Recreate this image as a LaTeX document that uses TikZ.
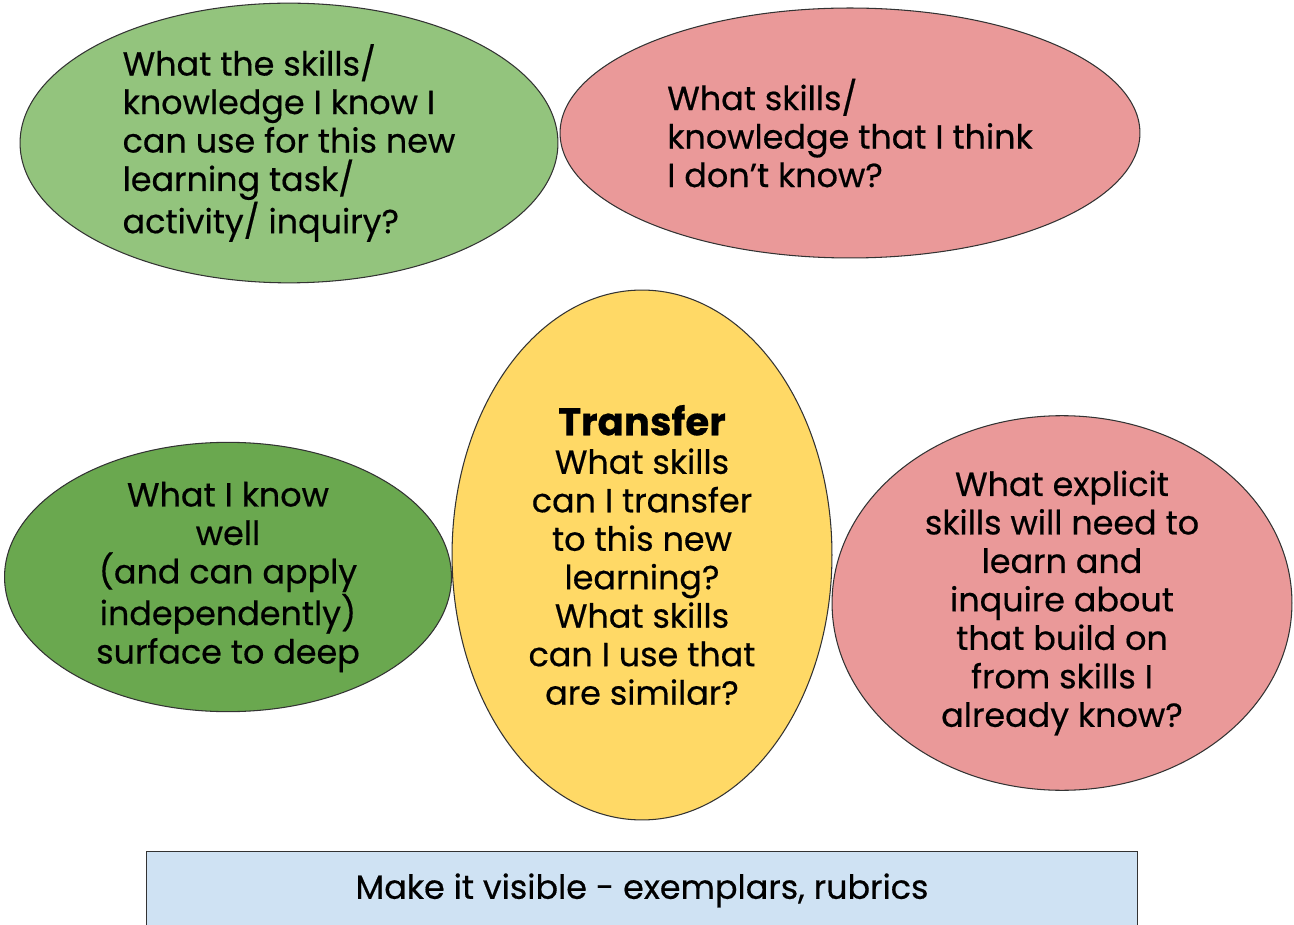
\documentclass[tikz,border=0pt]{standalone}
\usepackage{fontspec}
\setmainfont{Poppins}[FakeBold=0.5]
\usetikzlibrary{shapes.geometric}

\definecolor{knowngreen}{HTML}{93C47D}
\definecolor{wellgreen}{HTML}{6AA84F}
\definecolor{askpink}{HTML}{EA9999}
\definecolor{transferyellow}{HTML}{FFD966}
\definecolor{visibleblue}{HTML}{CFE2F3}

\tikzset{
  bubble/.style={draw=black!80, line width=0.6pt, ellipse, inner sep=0pt,
    font=\fontsize{19}{21.9}\selectfont},
}

\begin{document}
\begin{tikzpicture}[x=0.02cm,y=-0.02cm]
        \clip (0,0) rectangle (1294,925);
        \fill[white] (0,0) rectangle (1294,925);
        \node (known) [bubble, fill=knowngreen, minimum width=10.76cm, minimum height=5.4cm, align=left] at (289,143)
            {What the skills/\\knowledge I know I\\can use for this new\\learning task/\\activity/ inquiry?};
        \node (unknown) [bubble, fill=askpink, minimum width=11.6cm, minimum height=5cm, align=left] at (850,133)
            {What skills/\\knowledge that I think\\I don’t know?};
        \node (wellknown) [bubble, fill=wellgreen, minimum width=8.94cm, minimum height=5.38cm, align=center] at (228,577)
            {What I know\\well\\(and can apply\\independently)\\surface to deep};
        \node (transfer) [bubble, fill=transferyellow, minimum width=7.6cm, minimum height=10.6cm, align=center] at (642,555)
            {{\fontsize{22}{25}\selectfont\bfseries Transfer}\\What skills\\can I transfer\\to this new\\learning?\\What skills\\can I use that\\are similar?};
        \node (explicit) [bubble, fill=askpink, minimum width=9.2cm, minimum height=6.52cm, align=center] at (1062,603)
            {What explicit\\skills will need to\\learn and\\inquire about\\that build on\\from skills I\\already know?};
        \node (visible) [draw=black!80, line width=0.6pt, fill=visibleblue, minimum width=19.84cm, minimum height=3cm,
            anchor=north, text depth=4.6em, font=\fontsize{19}{22}\selectfont] at (642,851)
            {Make it visible - exemplars, rubrics};
    \end{tikzpicture}
\end{document}
